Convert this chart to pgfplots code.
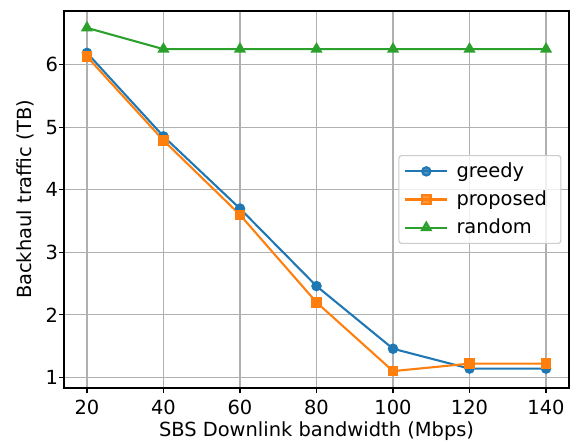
\documentclass[border=0pt]{standalone}
\usepackage{pgfplots}
\pgfplotsset{compat=1.18}
\usepackage{fontspec}
\setmainfont{DejaVu Sans}
\definecolor{tabblue}{HTML}{1F77B4}
\definecolor{taborange}{HTML}{FF7F0E}
\definecolor{tabgreen}{HTML}{2CA02C}
\definecolor{gridgray}{HTML}{B0B0B0}
\definecolor{legframe}{HTML}{CCCCCC}
\begin{document}
\fontsize{14pt}{16pt}\selectfont
\begin{tikzpicture}
% fixed page frame with white margins around the plot
\useasboundingbox (-46.08pt,-41.04pt) rectangle (370.8pt,279.36pt);
\begin{axis}[
  scale only axis,
  at={(0,0)}, anchor=south west,
  width=363.6pt, height=271.44pt,
  xmin=14, xmax=146, ymin=0.83, ymax=6.86,
  xtick={20,40,...,140}, ytick={1,2,3,4,5,6},
  /pgf/number format/assume math mode=true,
  tick label style={font=\fontsize{14pt}{16pt}\selectfont},
  label style={font=\fontsize{14pt}{16pt}\selectfont},
  xlabel={SBS Downlink bandwidth (Mbps)},
  ylabel={Backhaul traffic (TB)},
  yticklabel shift=-4pt,
  ylabel style={yshift=-1.5pt},
  xlabel style={yshift=4pt},
  grid=major,
  major grid style={gridgray, line width=0.8pt},
  axis line style={black, line width=0.8pt},
  tick style={black, line width=0.8pt},
  tick align=outside, major tick length=3.5pt,
  xtick pos=bottom, ytick pos=left,
  legend style={at={(0.985,0.5)}, anchor=east, draw=legframe, rounded corners=2pt,
    fill=white, fill opacity=0.8, text opacity=1, line width=0.8pt,
    font=\fontsize{14pt}{16pt}\selectfont, inner xsep=4pt, inner ysep=3pt,
    row sep=3.5pt, nodes={inner xsep=6pt}},
  legend cell align=left,
  legend image code/.code={%
    \draw[mark repeat=2,mark phase=2] plot coordinates {(0pt,0pt) (15pt,0pt) (30pt,0pt)};},
  every axis plot/.append style={line width=1.5pt},
]
\addplot[tabblue, mark=*, mark size=3pt, mark options={solid}] coordinates {
  (20,6.19) (40,4.855) (60,3.70) (80,2.46) (100,1.458) (120,1.14) (140,1.14)};
\addlegendentry{greedy}
\addplot[taborange, mark=square*, mark size=3pt] coordinates {
  (20,6.13) (40,4.79) (60,3.60) (80,2.20) (100,1.10) (120,1.22) (140,1.22)};
\addlegendentry{proposed}
\addplot[tabgreen, mark=triangle*, mark size=3.6pt] coordinates {
  (20,6.59) (40,6.25) (60,6.25) (80,6.25) (100,6.25) (120,6.25) (140,6.25)};
\addlegendentry{random}
\end{axis}
\end{tikzpicture}
\end{document}
